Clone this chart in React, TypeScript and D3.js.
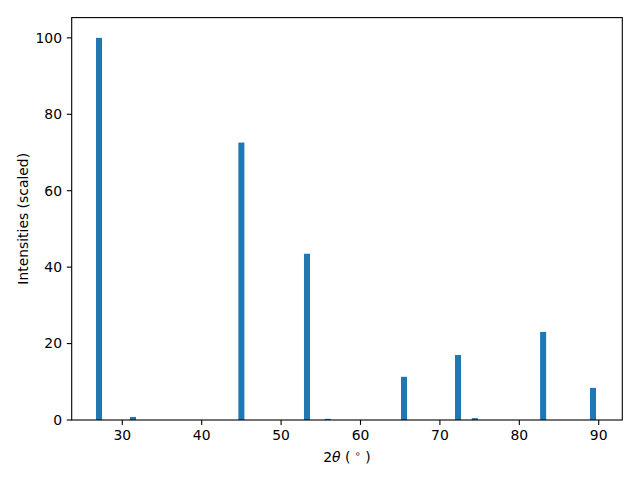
import React from "react";
import * as d3 from "d3";

const positions = [27.07, 31.35, 45.0, 53.26, 55.87, 65.48, 72.28, 74.4, 83.0, 89.28];
const intensities = [100, 0.8, 72.6, 43.5, 0.3, 11.3, 17.0, 0.5, 23.05, 8.4];
const xTicks = [30, 40, 50, 60, 70, 80, 90];
const yTicks = [0, 20, 40, 60, 80, 100];

const W = 640, H = 480;
const L = 71.7, R = 622.3, T = 17.6, B = 420;
const barWidth = 0.76;
const font = "DejaVu Sans, sans-serif";

export default function App() {
  const x = d3.scaleLinear().domain([23.63, 92.97]).range([L, R]);
  const y = d3.scaleLinear().domain([0, 105.3]).range([B, T]);
  return (
    <svg width={W} height={H} style={{ display: "block", position: "absolute", left: 0, top: 0 }}>
      <rect x={0} y={0} width={W} height={H} fill="#fff" />
      {positions.map((p, i) => (
        <rect
          key={i}
          x={x(p - barWidth / 2)}
          y={y(intensities[i])}
          width={x(p + barWidth / 2) - x(p - barWidth / 2)}
          height={y(0) - y(intensities[i])}
          fill="#1f77b4"
        />
      ))}
      <rect x={L} y={T} width={R - L} height={B - T} fill="none" stroke="#000" strokeWidth={1.1} />
      {xTicks.map((t) => (
        <g key={t}>
          <line x1={x(t)} x2={x(t)} y1={B} y2={B + 4.9} stroke="#000" strokeWidth={1.1} />
          <text x={x(t)} y={B + 20} textAnchor="middle" fontFamily={font} fontSize={13.9} fill="#000">
            {t}
          </text>
        </g>
      ))}
      {yTicks.map((t) => (
        <g key={t}>
          <line x1={L - 4.9} x2={L} y1={y(t)} y2={y(t)} stroke="#000" strokeWidth={1.1} />
          <text x={L - 9.7} y={y(t)} dy="0.35em" textAnchor="end" fontFamily={font} fontSize={13.9} fill="#000">
            {t}
          </text>
        </g>
      ))}
      <text x={(L + R) / 2} y={462} textAnchor="middle" fontFamily={font} fontSize={13.9} fill="#000" xmlSpace="preserve">
        2<tspan fontStyle="italic">θ</tspan>{" ( "}<tspan dy={-5} fontSize={9.7}>∘</tspan><tspan dy={5}>{" )"}</tspan>
      </text>
      <text
        transform={`translate(27.5,${(T + B) / 2}) rotate(-90)`}
        textAnchor="middle"
        fontFamily={font}
        fontSize={13.9}
        fill="#000"
      >
        Intensities (scaled)
      </text>
    </svg>
  );
}
